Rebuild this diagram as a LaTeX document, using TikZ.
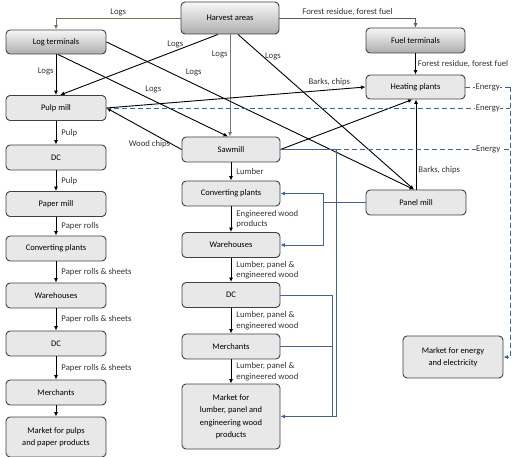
\documentclass[tikz,border=0pt]{standalone}
\usepackage{fontspec}
\setmainfont{Carlito}
\usetikzlibrary{arrows.meta}
\definecolor{enblue}{RGB}{68,98,145}
\definecolor{logolive}{RGB}{118,118,96}

\begin{document}
\begin{tikzpicture}[x=1pt, y=-1pt, >={Latex[length=4.5pt,width=4pt]}, line width=0.9pt,
    font=\fontsize{8.5}{12.5}\selectfont,
    box/.style={rectangle, rounded corners=4pt, draw=black!75, fill=black!9, minimum width=100pt, minimum height=25pt, align=center, inner sep=1pt},
    srcbox/.style={box, top color=black!3, bottom color=black!32},
    lbl/.style={inner sep=2pt, text=black!80, font=\fontsize{8.7}{10.5}\selectfont},
    elbl/.style={lbl, fill=white, inner sep=0.5pt},
    energy/.style={draw=enblue, dash pattern=on 5pt off 3pt},
    supply/.style={draw=enblue}]
    \useasboundingbox (0,0) rectangle (528,457);

    % sources and terminals
    \node[srcbox, minimum width=98pt, minimum height=32pt] (harvest) at (230,18) {Harvest areas};
    \node[srcbox, minimum height=24pt] (logterm) at (56,42) {Log terminals};
    \node[srcbox, minimum width=99pt] (fuelterm) at (415.5,40.5) {Fuel terminals};
    \node[box, minimum width=99pt, minimum height=24pt] (heating) at (415.5,87) {Heating plants};

    % pulp and paper chain
    \node[box] (pulpmill) at (56,108) {Pulp mill};
    \node[box] (pdc) at (56,157.5) {DC};
    \node[box] (papermill) at (56,204) {Paper mill};
    \node[box] (pconv) at (56,248.5) {Converting plants};
    \node[box] (pware) at (56,295.5) {Warehouses};
    \node[box] (pdc2) at (56,343.5) {DC};
    \node[box] (pmerch) at (56,392.5) {Merchants};
    \node[box, minimum height=40pt] (pmarket) at (56,437) {Market for pulps\\and paper products};

    % wood products chain
    \node[box, minimum width=98pt] (sawmill) at (231,149.5) {Sawmill};
    \node[box, minimum width=98pt] (wconv) at (231,193.5) {Converting plants};
    \node[box, minimum width=98pt] (wware) at (231,245) {Warehouses};
    \node[box, minimum width=98pt] (wdc) at (231,295) {DC};
    \node[box, minimum width=98pt] (wmerch) at (231,346.5) {Merchants};
    \node[box, minimum width=98pt, minimum height=65pt] (wmarket) at (231,416.5) {Market for\\lumber, panel and\\engineering wood\\products};

    \node[box] (panelmill) at (416,202.5) {Panel mill};
    \node[box, minimum height=42pt] (emarket) at (453,357) {Market for energy\\and electricity};

    % logs and fuel
    \draw[->, draw=logolive] (harvest.west) -| node[lbl, pos=0.25, above] {Logs} (logterm.north);
    \draw[->, draw=black!65] (harvest.east) -| node[lbl, pos=0.25, above] {Forest residue, forest fuel} (fuelterm.north);
    \draw[->] ([xshift=-12pt]harvest.south) -- node[lbl, pos=0.27, above] {Logs} ([xshift=4pt]pulpmill.north);
    \draw[->, draw=black!55] (harvest.south) -- node[lbl, pos=0.2, left] {Logs} (harvest.south |- sawmill.north);
    \draw[->] ([xshift=8pt]harvest.south) -- node[lbl, pos=0.14, right] {Logs} ([xshift=-2pt]panelmill.north);
    \draw[->] (logterm.south) -- node[lbl, pos=0.43, left] {Logs} (pulpmill.north);
    \draw[->] ([xshift=2pt]logterm.south) -- node[lbl, pos=0.5, above right] {Logs} ([xshift=-3pt]sawmill.north);
    \draw[->] (logterm.east) -- node[lbl, pos=0.25, above right] {Logs} ([xshift=-2pt]panelmill.north);
    \draw[->] (fuelterm.south) -- node[lbl, right] {Forest residue, forest fuel} (heating.north);

    % by-products
    \draw[->] (pulpmill.east) -- node[lbl, pos=0.86, above=2pt] {Barks, chips} (heating.west);
    \draw[->] (sawmill.east) -- ([xshift=-3pt]heating.south);
    \draw[->] (panelmill.north) -- node[lbl, pos=0.22, right] {Barks, chips} (panelmill.north |- heating.south);
    \draw[->] (sawmill.west) -- node[lbl, pos=0.12, left] {Wood chips} (pulpmill.east);

    % pulp and paper flow
    \draw[->] (pulpmill) -- node[lbl, right=3pt] {Pulp} (pdc);
    \draw[->] (pdc) -- node[lbl, right=3pt] {Pulp} (papermill);
    \draw[->] (papermill) -- node[lbl, right=3pt] {Paper rolls} (pconv);
    \draw[->] (pconv) -- node[lbl, right=3pt] {Paper rolls \& sheets} (pware);
    \draw[->] (pware) -- node[lbl, right=3pt] {Paper rolls \& sheets} (pdc2);
    \draw[->] (pdc2) -- node[lbl, right=3pt] {Paper rolls \& sheets} (pmerch);
    \draw[->] (pmerch) -- (pmarket);

    % wood products flow
    \draw[->] (sawmill) -- node[lbl, right=3pt] {Lumber} (wconv);
    \draw[->] (wconv) -- node[lbl, right=3pt, align=left] {Engineered wood\\products} (wware);
    \draw[->] (wware) -- node[lbl, right=3pt, align=left] {Lumber, panel \&\\engineered wood} (wdc);
    \draw[->] (wdc) -- node[lbl, right=3pt, align=left] {Lumber, panel \&\\engineered wood} (wmerch);
    \draw[->] (wmerch) -- node[lbl, right=3pt, align=left] {Lumber, panel \&\\engineered wood} (wmarket);

    % panel and lumber supply
    \coordinate (pbus) at (323,202.5);
    \coordinate (sbus) at (336,416.5);
    \coordinate (mbus) at (332,416.5);
    \draw[supply] (panelmill.west) -- (pbus);
    \draw[supply, ->] (pbus) |- (wconv.east);
    \draw[supply, ->] (pbus) |- (wware.east);
    \draw[supply, ->] (sawmill.east) -| (sbus) -- (wmarket.east);
    \draw[supply] (wdc.east) -| (mbus);
    \draw[supply] (wmerch.east) -| (mbus);

    % energy
    \coordinate (ehub1) at (510,87);
    \coordinate (ehub2) at (510,108);
    \coordinate (ehub3) at (510,149.5);
    \draw[energy] (heating.east) -- node[elbl, pos=0.5] {Energy} (ehub1);
    \draw[energy, ->] (ehub1) |- (emarket.east);
    \draw[energy] (pulpmill.east) -- node[elbl, pos=0.945] {Energy} (ehub2);
    \draw[energy] (sawmill.east) -- node[elbl, pos=0.905] {Energy} (ehub3);
\end{tikzpicture}
\end{document}
